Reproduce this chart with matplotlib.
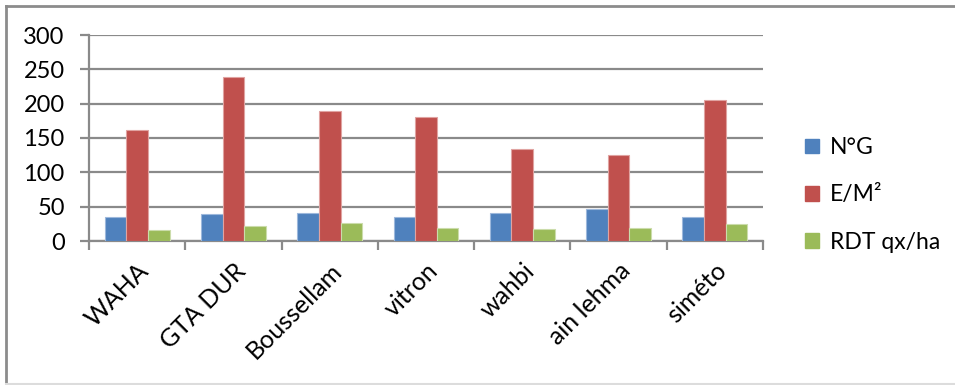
import matplotlib.pyplot as plt
from matplotlib.patches import Patch
import numpy as np

plt.rcParams['font.family'] = ['Lato', 'DejaVu Sans']

varieties = ['WAHA', 'GTA DUR', 'Boussellam', 'vitron', 'wahbi', 'ain lehma', 'siméto']
ng = [35, 39, 41, 34.5, 41, 47, 34.5]
em2 = [161, 239, 190, 180, 133.5, 125, 205.5]
rdt = [16, 21.5, 25.5, 18.5, 17, 19, 25]

series = [('N°G', ng, '#4F81BD', '#9db8dc'),
          ('E/M²', em2, '#C0504D', '#e0a3a1'),
          ('RDT qx/ha', rdt, '#9BBB59', '#cbdcab')]

W, H = 955, 385
fig = plt.figure(figsize=(W / 100, H / 100), dpi=100)

# outer chart frame
fig.add_artist(plt.Line2D([6 / W, 6 / W], [1 - 384 / H, 1 - 6 / H], color='#8c8c8c', lw=2))
fig.add_artist(plt.Line2D([6 / W, 1], [1 - 6 / H, 1 - 6 / H], color='#8c8c8c', lw=2))
fig.add_artist(plt.Line2D([6 / W, 1], [1 - 384 / H, 1 - 384 / H], color='#dcdcdc', lw=1.5))

ax = fig.add_axes([89 / W, 1 - 241 / H, 674 / W, 206 / H])

x = np.arange(len(varieties))
bw = 0.225
for i, (name, vals, col, edge) in enumerate(series):
    ax.bar(x + (i - 1) * bw, vals, bw, color=col, edgecolor=edge, linewidth=0.8,
           label=name, zorder=3)

grid = '#8a8a8a'
ax.set_ylim(0, 300)
ax.set_yticks(range(0, 301, 50))
ax.set_xlim(-0.5, len(varieties) - 0.5)
ax.yaxis.grid(True, color=grid, lw=1.6, zorder=0)
ax.set_axisbelow(True)

for s in ['top', 'right']:
    ax.spines[s].set_visible(False)
for s in ['left', 'bottom']:
    ax.spines[s].set_color(grid)
    ax.spines[s].set_linewidth(1.6)

ax.tick_params(axis='y', length=6.5, width=1.6, color=grid, pad=11, labelsize=17)
ax.set_xticks(x)
ax.set_xticklabels(varieties, rotation=45, ha='right', va='top',
                   rotation_mode='anchor', fontsize=18)
ax.tick_params(axis='x', which='major', length=0, pad=13)
ax.set_xticks(np.arange(-0.5, len(varieties)), minor=True)
ax.tick_params(axis='x', which='minor', length=6.5, width=1.6, color=grid)

handles = [Patch(facecolor=c, edgecolor=c, label=n) for n, _, c, _ in series]
fig.legend(handles=handles, loc='upper left', bbox_to_anchor=(805 / W, 1 - 137 / H),
           frameon=False, fontsize=16.5, handlelength=0.62, handleheight=0.62,
           handletextpad=0.45, labelspacing=1.15, borderpad=0, borderaxespad=0)

fig.savefig('out.png', dpi=100)
